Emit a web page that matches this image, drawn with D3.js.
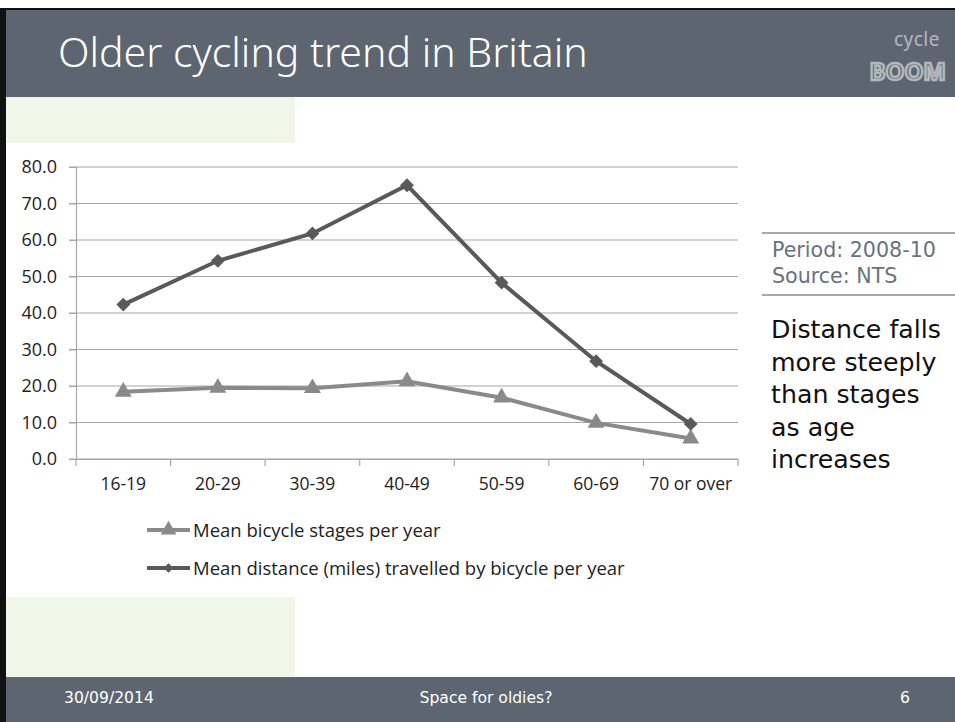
<!DOCTYPE html>
<html>
<head>
<meta charset="utf-8">
<script src="https://cdn.jsdelivr.net/npm/d3@7"></script>
<style>
  body { margin: 0; background: #fff; }
  svg { display: block; }
</style>
</head>
<body>
<div id="slide"></div>
<script>
// data
const ageGroups = ["16-19", "20-29", "30-39", "40-49", "50-59", "60-69", "70 or over"]
const stagesPerYear = [18.4, 19.5, 19.4, 21.3, 16.8, 9.9, 5.6]
const milesPerYear = [42.3, 54.3, 61.8, 75.0, 48.3, 26.8, 9.6]
const yTicks = [0, 10, 20, 30, 40, 50, 60, 70, 80]
const seriesNames = ["Mean bicycle stages per year", "Mean distance (miles) travelled by bicycle per year"]
const sourceLines = ["Period: 2008-10", "Source: NTS"]
const noteLines = ["Distance falls", "more steeply", "than stages", "as age", "increases"]

const width = 955
const height = 722
const margin = { top: 167, right: 217, bottom: 263, left: 76 }

const svg = d3.select("#slide")
  .append("svg")
  .attr("width", width)
  .attr("height", height)

const titleFont = "'Noto Sans', sans-serif"
const wideFont = "'DejaVu Sans', sans-serif"
const chartFont = "'Open Sans', sans-serif"

// shrink or grow a text's font size so it spans a given width
function fitWidth (sel, target) {
  sel.each(function () {
    const w = this.getComputedTextLength()
    const fs = parseFloat(this.style.fontSize)
    if (w > 0) this.style.fontSize = (fs * target / w) + "px"
  })
}

// slide frame
svg.append("rect").attr("x", 0).attr("y", 8).attr("width", 6).attr("height", height - 8).attr("fill", "#111")
svg.append("rect").attr("x", 0).attr("y", 8).attr("width", width).attr("height", 2).attr("fill", "#111")
svg.append("rect").attr("x", 6).attr("y", 10).attr("width", width - 6).attr("height", 87).attr("fill", "#5d6670")
svg.append("rect").attr("x", 6).attr("y", 677).attr("width", width - 6).attr("height", 45).attr("fill", "#5d6670")
svg.append("rect").attr("x", 6).attr("y", 97).attr("width", 289).attr("height", 46).attr("fill", "#f0f6e8")
svg.append("rect").attr("x", 6).attr("y", 597).attr("width", 289).attr("height", 80).attr("fill", "#f0f6e8")

svg.append("text")
  .attr("x", 58).attr("y", 67)
  .attr("fill", "#fff")
  .style("font-family", titleFont)
  .style("font-weight", 300)
  .style("font-size", "36px")
  .text("Older cycling trend in Britain")
  .call(fitWidth, 530)

// logo
svg.append("text")
  .attr("x", 940).attr("y", 46)
  .attr("text-anchor", "end")
  .attr("fill", "#b3b8bd")
  .style("font-family", titleFont)
  .style("font-size", "19px")
  .style("letter-spacing", "0.5px")
  .text("cycle")
svg.append("text")
  .attr("x", 946).attr("y", 80)
  .attr("text-anchor", "end")
  .attr("fill", "none")
  .attr("stroke", "#b3b8bd")
  .attr("stroke-width", 2.4)
  .style("font-family", titleFont)
  .style("font-weight", "bold")
  .style("font-size", "24px")
  .text("BOOM")

// footer
const footer = [
  { t: "30/09/2014", x: 64, a: "start" },
  { t: "Space for oldies?", x: 486, a: "middle" },
  { t: "6", x: 910, a: "end" }
]
const footTexts = svg.append("g").selectAll("text")
  .data(footer)
  .join("text")
    .attr("x", d => d.x).attr("y", 703)
    .attr("text-anchor", d => d.a)
    .attr("fill", "#fff")
    .style("font-family", wideFont)
    .style("font-size", "14px")
    .text(d => d.t)
d3.select(footTexts.nodes()[1]).call(fitWidth, 133)
footTexts.style("font-size", footTexts.nodes()[1].style.fontSize)

// scales
const x = d3.scaleBand()
  .domain(ageGroups)
  .range([margin.left, width - margin.right])

const y = d3.scaleLinear()
  .domain([0, 80])
  .range([height - margin.bottom, margin.top])

// gridlines
svg.append("g")
  .selectAll("line")
  .data(yTicks)
  .join("line")
    .attr("x1", margin.left - 7).attr("x2", width - margin.right)
    .attr("y1", d => y(d)).attr("y2", d => y(d))
    .attr("stroke", "#a6a6a6")
    .attr("stroke-width", 1.2)

// y axis
const yAxis = svg.append("g")
  .attr("transform", `translate(${margin.left},0)`)
  .call(d3.axisLeft(y).tickValues(yTicks).tickFormat(d3.format(".1f")).tickSize(7).tickPadding(12))
yAxis.select(".domain").attr("stroke", "#a6a6a6").attr("stroke-width", 1.2)
yAxis.selectAll(".tick line").attr("stroke", "#a6a6a6")
yAxis.selectAll("text").attr("fill", "#222").style("font-family", chartFont).style("font-size", "18px")

// x axis
const xAxis = svg.append("g")
  .attr("transform", `translate(0,${y(0)})`)
  .call(d3.axisBottom(x).tickSize(0).tickPadding(19))
xAxis.select(".domain").attr("stroke", "#a6a6a6").attr("stroke-width", 1.2)
xAxis.selectAll("text").attr("fill", "#222").style("font-family", chartFont).style("font-size", "17.5px")
xAxis.append("g")
  .selectAll("line")
  .data(ageGroups.concat("end"))
  .join("line")
    .attr("x1", (d, i) => margin.left + i * x.bandwidth())
    .attr("x2", (d, i) => margin.left + i * x.bandwidth())
    .attr("y1", 0).attr("y2", 7)
    .attr("stroke", "#a6a6a6")
    .attr("stroke-width", 1.2)

const cx = d => x(d) + x.bandwidth() / 2
const line = d3.line().x(d => cx(d.age)).y(d => y(d.v))

const stageData = ageGroups.map((a, i) => ({ age: a, v: stagesPerYear[i] }))
const mileData = ageGroups.map((a, i) => ({ age: a, v: milesPerYear[i] }))

const stageColor = "#8a8a8a"
const mileColor = "#595959"

svg.append("path")
  .datum(stageData)
  .attr("d", line)
  .attr("fill", "none")
  .attr("stroke", stageColor)
  .attr("stroke-width", 4)

svg.append("path")
  .datum(mileData)
  .attr("d", line)
  .attr("fill", "none")
  .attr("stroke", mileColor)
  .attr("stroke-width", 4)

const triangle = d3.symbol().type(d3.symbolTriangle).size(125)
const diamond = d3.symbol().type(d3.symbolSquare).size(95)

svg.append("g").selectAll("path")
  .data(stageData)
  .join("path")
    .attr("d", triangle)
    .attr("transform", d => `translate(${cx(d.age)},${y(d.v)})`)
    .attr("fill", stageColor)

svg.append("g").selectAll("path")
  .data(mileData)
  .join("path")
    .attr("d", diamond)
    .attr("transform", d => `translate(${cx(d.age)},${y(d.v)}) rotate(45)`)
    .attr("fill", mileColor)

// legend
const legend = svg.append("g")
  .selectAll("g")
  .data(seriesNames)
  .join("g")
    .attr("transform", (d, i) => `translate(147,${530 + i * 38})`)

legend.append("line")
  .attr("x1", 0).attr("x2", 43)
  .attr("stroke", (d, i) => i === 0 ? stageColor : mileColor)
  .attr("stroke-width", 4)
legend.append("path")
  .attr("d", (d, i) => i === 0 ? d3.symbol().type(d3.symbolTriangle).size(110)() : d3.symbol().type(d3.symbolSquare).size(45)())
  .attr("transform", (d, i) => i === 0 ? "translate(21.5,0)" : "translate(21.5,0) rotate(45)")
  .attr("fill", (d, i) => i === 0 ? stageColor : mileColor)
legend.append("text")
  .attr("x", 46).attr("y", 6.5)
  .attr("fill", "#222")
  .style("font-family", chartFont)
  .style("font-size", "18.5px")
  .text(d => d)

// side notes
svg.append("line").attr("x1", 762).attr("x2", width).attr("y1", 233).attr("y2", 233).attr("stroke", "#8a8a8a").attr("stroke-width", 1.5)
svg.append("line").attr("x1", 762).attr("x2", width).attr("y1", 295).attr("y2", 295).attr("stroke", "#8a8a8a").attr("stroke-width", 1.5)

const source = svg.append("g").selectAll("text")
  .data(sourceLines)
  .join("text")
    .attr("x", 772).attr("y", (d, i) => 257 + i * 26)
    .attr("fill", "#69727c")
    .style("font-family", wideFont)
    .style("font-size", "16px")
    .text(d => d)
d3.select(source.nodes()[0]).call(fitWidth, 164)
source.style("font-size", source.nodes()[0].style.fontSize)

const notes = svg.append("g").selectAll("text")
  .data(noteLines)
  .join("text")
    .attr("x", 771).attr("y", (d, i) => 338 + i * 32.5)
    .attr("fill", "#111")
    .style("font-family", wideFont)
    .style("font-size", "21px")
    .text(d => d)

// size every note line like the first one
d3.select(notes.nodes()[0]).call(fitWidth, 170)
notes.style("font-size", notes.nodes()[0].style.fontSize)
</script>
</body>
</html>
